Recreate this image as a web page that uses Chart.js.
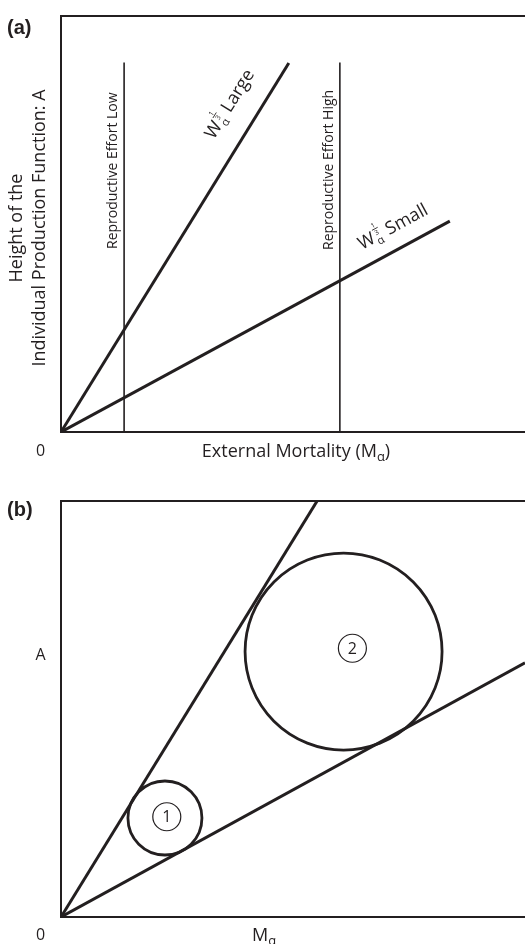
<!DOCTYPE html>
<html>
<head>
<meta charset="utf-8">
<script src="https://cdn.jsdelivr.net/npm/chart.js@4.4.0/dist/chart.umd.min.js"></script>
<style>
  html, body { margin: 0; padding: 0; background: #fff; }
  #wrap { position: relative; width: 525px; height: 944px; }
  canvas { position: absolute; left: 0; }
</style>
</head>
<body>
<div id="wrap">
  <canvas id="chartA" width="525" height="472" style="top:0"></canvas>
  <canvas id="chartB" width="525" height="472" style="top:472px"></canvas>
</div>
<script>
const INK = "#231f20";
const FONT = "'Open Sans', sans-serif";

// panel (a) - both axes run 0..10 (arbitrary units)
const largeX = [0, 4.91];
const largeY = [0, 8.87];
const smallX = [0, 8.38];
const smallY = [0, 5.07];
const effortLowX = [1.36, 1.36];
const effortHighX = [6.01, 6.01];
const effortY = [0, 8.88];

// panel (b)
const bLargeX = [0, 5.52];
const bLargeY = [0, 10];
const bSmallX = [0, 10];
const bSmallY = [0, 6.11];
const nicheX = [2.24, 6.09];
const nicheY = [2.38, 6.38];
const nicheR = [37, 98.5];
const nicheLabels = ["1", "2"];
const nicheLabelX = [2.28, 6.28];
const nicheLabelY = [2.41, 6.46];

function pts(xs, ys) { return xs.map((x, i) => ({ x: x, y: ys[i] })); }

function lineSet(xs, ys, w) {
  return { data: pts(xs, ys), showLine: true, pointRadius: 0, borderColor: INK, borderWidth: w, fill: false };
}

// draws text pieces one after another along a (rotated) baseline
function drawRuns(ctx, x, y, angle, runs) {
  ctx.save();
  ctx.translate(x, y);
  ctx.rotate(angle);
  ctx.fillStyle = INK;
  ctx.strokeStyle = INK;
  ctx.textBaseline = "alphabetic";
  ctx.textAlign = "left";
  let cx = 0;
  runs.forEach(r => {
    if (r.wexp) {
      // alpha subscript with a tiny 1/3 stacked above it
      ctx.font = "11px " + FONT;
      const aw = ctx.measureText("\u03b1").width;
      ctx.fillText("\u03b1", cx + 1, 4);
      ctx.font = "7px " + FONT;
      ctx.fillText("1", cx + 2.5, -14);
      ctx.fillText("3", cx + 2.5, -6);
      ctx.lineWidth = 0.8;
      ctx.beginPath();
      ctx.moveTo(cx + 1.5, -12.5);
      ctx.lineTo(cx + 8, -12.5);
      ctx.stroke();
      cx += aw + 3;
    } else {
      ctx.font = r.font;
      ctx.fillText(r.text, cx, r.dy || 0);
      cx += ctx.measureText(r.text).width;
    }
  });
  ctx.restore();
}

function textWidth(ctx, runs) {
  let w = 0;
  runs.forEach(r => { ctx.font = r.font; w += ctx.measureText(r.text).width; });
  return w;
}

const framePlugin = {
  id: "frame",
  beforeDatasetsDraw(chart) {
    const { ctx, chartArea: a } = chart;
    ctx.save();
    ctx.strokeStyle = INK;
    ctx.lineWidth = 2;
    ctx.beginPath();
    ctx.moveTo(chart.width, a.top);
    ctx.lineTo(a.left, a.top);
    ctx.lineTo(a.left, a.bottom);
    ctx.lineTo(chart.width, a.bottom);
    ctx.stroke();
    ctx.restore();
  }
};

const labelsA = {
  id: "labelsA",
  afterDraw(chart) {
    const ctx = chart.ctx;
    ctx.save();
    ctx.fillStyle = INK;
    ctx.font = "bold 20px Arial, 'Liberation Sans', sans-serif";
    ctx.textBaseline = "middle";
    ctx.fillText("(a)", 7, 28);
    ctx.font = "16px " + FONT;
    ctx.textAlign = "center";
    ctx.fillText("0", 40.5, 451);

    // x title with subscript
    const runs = [
      { text: "External Mortality (M", font: "18px " + FONT },
      { text: "\u03b1", font: "13px " + FONT, dy: 4 },
      { text: ")", font: "18px " + FONT }
    ];
    const w = textWidth(ctx, runs);
    drawRuns(ctx, 296 - w / 2, 457, 0, runs);

    // y title, two lines
    ctx.save();
    ctx.translate(17, 228);
    ctx.rotate(-Math.PI / 2);
    ctx.font = "18px " + FONT;
    ctx.textAlign = "center";
    ctx.textBaseline = "middle";
    ctx.fillText("Height of the", 0, 0);
    ctx.fillText("Individual Production Function: A", 0, 23);
    ctx.restore();

    // effort labels
    drawRuns(ctx, 117, 249, -Math.PI / 2, [{ text: "Reproductive Effort Low", font: "14px " + FONT }]);
    drawRuns(ctx, 333, 250, -Math.PI / 2, [{ text: "Reproductive Effort High", font: "14px " + FONT }]);

    // line labels
    const ang = a => Math.atan2(a[1], a[0]);
    drawRuns(ctx, 214, 140, ang([228, -369]), [
      { text: "W", font: "18px " + FONT }, { wexp: true }, { text: " Large", font: "18px " + FONT }
    ]);
    drawRuns(ctx, 362, 250, ang([389, -211]), [
      { text: "W", font: "18px " + FONT }, { wexp: true }, { text: " Small", font: "18px " + FONT }
    ]);
    ctx.restore();
  }
};

const labelsB = {
  id: "labelsB",
  afterDraw(chart) {
    const ctx = chart.ctx;
    const sx = chart.scales.x, sy = chart.scales.y;
    ctx.save();
    ctx.fillStyle = INK;
    ctx.font = "bold 20px Arial, 'Liberation Sans', sans-serif";
    ctx.textBaseline = "middle";
    ctx.fillText("(b)", 7, 38);
    ctx.font = "16px " + FONT;
    ctx.textAlign = "center";
    ctx.fillText("0", 40.5, 463);
    ctx.fillText("A", 40.5, 183);
    drawRuns(ctx, 252, 469, 0, [
      { text: "M", font: "18px " + FONT },
      { text: "\u03b1", font: "13px " + FONT, dy: 4 }
    ]);
    ctx.font = "16px " + FONT;
    ctx.textAlign = "center";
    ctx.textBaseline = "middle";
    nicheLabels.forEach((t, i) => {
      ctx.fillText(t, sx.getPixelForValue(nicheLabelX[i]), sy.getPixelForValue(nicheLabelY[i]) + 1);
    });
    ctx.restore();
  }
};

const axes = {
  x: { type: "linear", min: 0, max: 10, display: false },
  y: { type: "linear", min: 0, max: 10, display: false }
};

Chart.defaults.font.family = FONT;

new Chart(document.getElementById("chartA"), {
  type: "scatter",
  data: {
    datasets: [
      lineSet(largeX, largeY, 3),
      lineSet(smallX, smallY, 3),
      lineSet(effortLowX, effortY, 1.6),
      lineSet(effortHighX, effortY, 1.6)
    ]
  },
  options: {
    responsive: false,
    animation: false,
    devicePixelRatio: 1,
    events: [],
    layout: { autoPadding: false, padding: { left: 61, top: 16, right: 0, bottom: 40 } },
    scales: axes,
    plugins: { legend: { display: false }, tooltip: { enabled: false } }
  },
  plugins: [framePlugin, labelsA]
});

new Chart(document.getElementById("chartB"), {
  type: "scatter",
  data: {
    datasets: [
      lineSet(bLargeX, bLargeY, 3),
      lineSet(bSmallX, bSmallY, 3),
      {
        type: "bubble",
        data: nicheX.map((x, i) => ({ x: x, y: nicheY[i], r: nicheR[i] })),
        backgroundColor: "rgba(0,0,0,0)",
        borderColor: INK,
        borderWidth: 2.8,
        clip: false
      },
      {
        type: "bubble",
        data: nicheLabelX.map((x, i) => ({ x: x, y: nicheLabelY[i], r: 14 })),
        backgroundColor: "rgba(0,0,0,0)",
        borderColor: INK,
        borderWidth: 1.2,
        clip: false
      }
    ]
  },
  options: {
    responsive: false,
    animation: false,
    devicePixelRatio: 1,
    events: [],
    layout: { autoPadding: false, padding: { left: 61, top: 29, right: 0, bottom: 27 } },
    scales: axes,
    plugins: { legend: { display: false }, tooltip: { enabled: false } }
  },
  plugins: [framePlugin, labelsB]
});
</script>
</body>
</html>
